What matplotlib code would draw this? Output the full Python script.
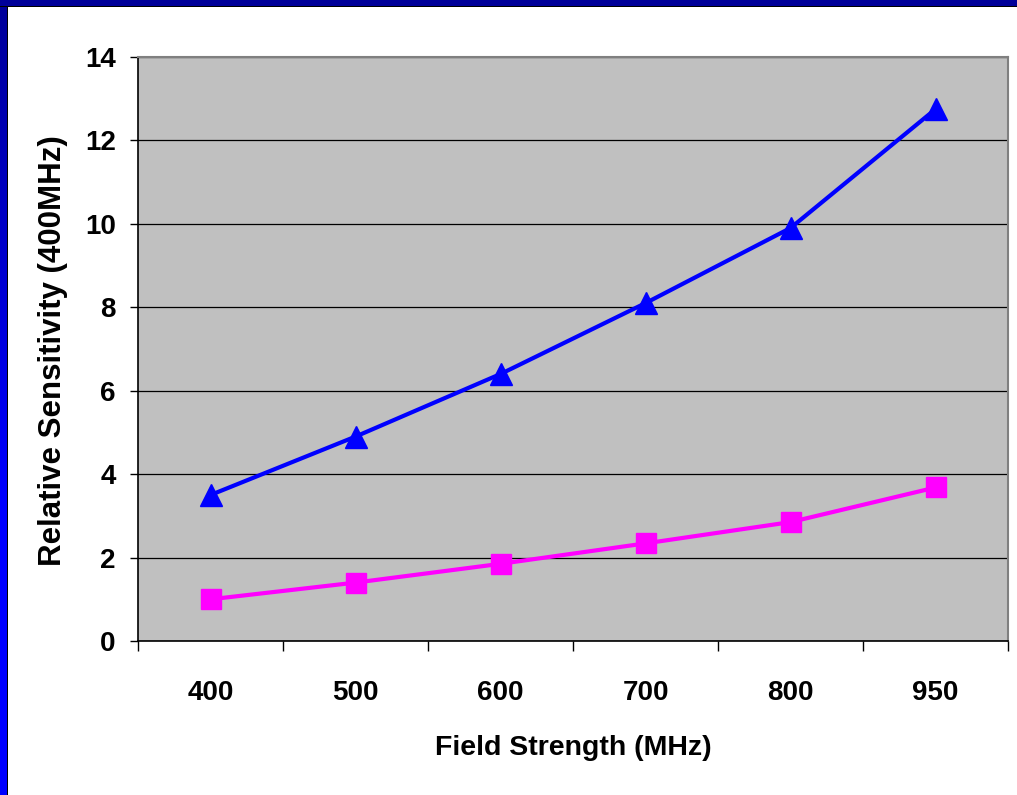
import numpy as np
import matplotlib.pyplot as plt
from matplotlib.patches import Rectangle

plt.rcParams['font.family'] = ['Liberation Sans', 'DejaVu Sans']

campos = ["400", "500", "600", "700", "800", "950"]
triangulos = [3.5, 4.9, 6.4, 8.1, 9.9, 12.75]
quadrados = [1.0, 1.4, 1.85, 2.34, 2.85, 3.68]
yticks = [0, 2, 4, 6, 8, 10, 12, 14]

fig = plt.figure(figsize=(10.17, 7.95), dpi=100)

# slide frame, drawn in pixel coordinates on a background axes
fundo = fig.add_axes([0, 0, 1, 1], zorder=-1)
fundo.set_xlim(0, 1017)
fundo.set_ylim(795, 0)
fundo.axis('off')
grad = np.linspace(0, 1, 256)
cores = np.zeros((256, 1, 3))
cores[:, 0, 2] = 0.6 + 0.4 * np.clip(grad * 1.6, 0, 1)
fundo.imshow(cores, aspect='auto', extent=[0, 7, 795, 0], interpolation='bilinear')
fundo.add_patch(Rectangle((7, 0), 1.2, 795, facecolor='black', edgecolor='none'))
fundo.add_patch(Rectangle((0, 0), 1017, 7, facecolor='black', edgecolor='none'))
fundo.add_patch(Rectangle((0, 0), 1017, 6, facecolor='#000099', edgecolor='none'))
fundo.set_xlim(0, 1017)
fundo.set_ylim(795, 0)

ax = fig.add_axes([138/1017, 1 - 641/795, 870/1017, 584/795])
ax.set_facecolor('#C0C0C0')

x = np.arange(len(campos))
ax.plot(x, triangulos, color='#0000FF', lw=3, marker='^', ms=16, zorder=3)
ax.plot(x, quadrados, color='#FF00FF', lw=3, marker='s', ms=14, zorder=3)

ax.set_xlim(-0.5, len(campos) - 0.5)
ax.set_ylim(0, 14)
ax.set_yticks(yticks)
ax.set_yticklabels([str(v) for v in yticks], fontsize=20, fontweight='bold')
ax.yaxis.grid(True, color='black', lw=0.9)
ax.set_axisbelow(True)

# labels at the centres, ticks on the boundaries
ax.set_xticks(x)
ax.set_xticklabels(campos, fontsize=20, fontweight='bold')
ax.set_xticks(np.arange(len(campos) + 1) - 0.5, minor=True)
ax.tick_params(axis='x', which='major', length=0, pad=28)
ax.tick_params(axis='x', which='minor', length=7.5, width=1, color='black', direction='out')
ax.tick_params(axis='y', length=6, width=1, direction='out', pad=10)

for s in ['left', 'bottom']:
	ax.spines[s].set_color('black')
	ax.spines[s].set_linewidth(1.2)
for s in ['top', 'right']:
	ax.spines[s].set_color('#808080')
	ax.spines[s].set_linewidth(1.5)

fig.text(573/1017, 1 - 748/795, 'Field Strength (MHz)', fontsize=20.5,
	fontweight='bold', ha='center', va='center')
fig.text(53/1017, 1 - 351/795, 'Relative Sensitivity (400MHz)', fontsize=22.5,
	fontweight='bold', ha='center', va='center', rotation=90)

plt.savefig('out.png', dpi=100)
